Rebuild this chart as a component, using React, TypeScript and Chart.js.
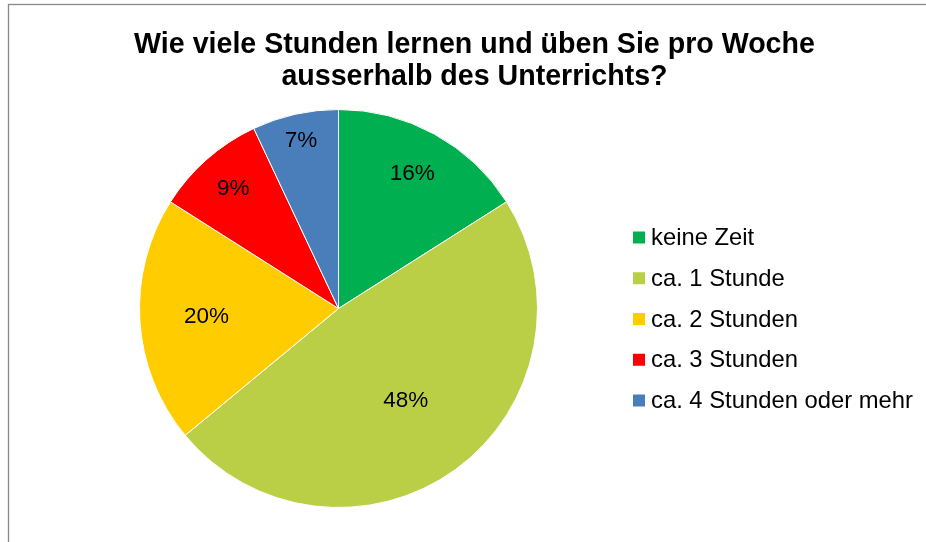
import React, { useEffect, useRef } from 'react';
import { Chart, registerables } from 'chart.js';

Chart.register(...registerables);

const TITLE_LINES = ['Wie viele Stunden lernen und üben Sie pro Woche', 'ausserhalb des Unterrichts?'];
const CATEGORIES = ['keine Zeit', 'ca. 1 Stunde', 'ca. 2 Stunden', 'ca. 3 Stunden', 'ca. 4 Stunden oder mehr'];
const VALUES = [16, 48, 20, 9, 7];
const COLORS = ['#00B050', '#BACF45', '#FFCC00', '#FF0000', '#4A7EBB'];
const LABEL_RADIUS = [0.77, 0.575, 0.665, 0.8, 0.865];

const FONT = '"Liberation Sans", Arial, sans-serif';

const framePlugin = {
  id: 'frame',
  beforeDraw(chart: any) {
    const ctx = chart.ctx;
    ctx.save();
    ctx.fillStyle = '#ffffff';
    ctx.fillRect(0, 0, chart.width, chart.height);
    ctx.strokeStyle = '#888888';
    ctx.lineWidth = 1.3;
    ctx.strokeRect(8.5, 4.5, chart.width + 50, chart.height + 50);
    ctx.restore();
  },
};

const titlePlugin = {
  id: 'customTitle',
  afterDraw(chart: any) {
    const ctx = chart.ctx;
    ctx.save();
    ctx.fillStyle = '#000000';
    ctx.font = `bold 28.6px ${FONT}`;
    ctx.textAlign = 'center';
    ctx.textBaseline = 'alphabetic';
    const cx = 474.5;
    TITLE_LINES.forEach((line, i) => {
      ctx.fillText(line, cx, 53 + i * 32);
    });
    ctx.restore();
  },
};

const sliceLabelPlugin = {
  id: 'sliceLabels',
  afterDatasetsDraw(chart: any) {
    const ctx = chart.ctx;
    const meta = chart.getDatasetMeta(0);
    const data = chart.data.datasets[0].data as number[];
    ctx.save();
    ctx.fillStyle = '#000000';
    ctx.font = `22.5px ${FONT}`;
    ctx.textAlign = 'center';
    ctx.textBaseline = 'middle';
    meta.data.forEach((arc: any, i: number) => {
      const { x, y, startAngle, endAngle, outerRadius } = arc.getProps(
        ['x', 'y', 'startAngle', 'endAngle', 'outerRadius'],
        true
      );
      const mid = (startAngle + endAngle) / 2;
      const r = outerRadius * LABEL_RADIUS[i];
      ctx.fillText(`${data[i]}%`, x + Math.cos(mid) * r, y + Math.sin(mid) * r);
    });
    ctx.restore();
  },
};

const legendPlugin = {
  id: 'customLegend',
  afterDraw(chart: any) {
    const ctx = chart.ctx;
    const labels = chart.data.labels as string[];
    const colors = chart.data.datasets[0].backgroundColor as string[];
    ctx.save();
    ctx.font = `23.8px ${FONT}`;
    ctx.textAlign = 'left';
    ctx.textBaseline = 'middle';
    labels.forEach((label, i) => {
      const cy = 237.5 + i * 40.75;
      ctx.fillStyle = colors[i];
      ctx.fillRect(633, cy - 6, 12, 12);
      ctx.fillStyle = '#000000';
      ctx.fillText(label, 651, cy + 1);
    });
    ctx.restore();
  },
};

export default function App() {
  const canvasRef = useRef<HTMLCanvasElement | null>(null);

  useEffect(() => {
    if (!canvasRef.current) return;
    const chart = new Chart(canvasRef.current, {
      type: 'pie',
      data: {
        labels: CATEGORIES,
        datasets: [
          {
            data: VALUES,
            backgroundColor: COLORS,
            borderColor: '#ffffff',
            borderWidth: 1,
          },
        ],
      },
      options: {
        responsive: false,
        animation: false,
        devicePixelRatio: 1,
        layout: {
          padding: { left: 139, right: 388, top: 109, bottom: 34 },
        },
        plugins: {
          legend: { display: false },
          title: { display: false },
          tooltip: { enabled: false },
        },
      },
      plugins: [framePlugin, sliceLabelPlugin, titlePlugin, legendPlugin],
    });
    return () => chart.destroy();
  }, []);

  return (
    <div style={{ position: 'fixed', left: 0, top: 0, width: 926, height: 542, overflow: 'hidden', background: '#fff' }}>
      <canvas ref={canvasRef} width={926} height={542} style={{ display: 'block' }} />
    </div>
  );
}
